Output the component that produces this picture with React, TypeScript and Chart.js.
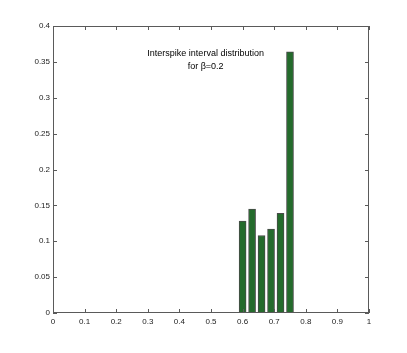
import React, { useEffect, useRef } from "react";
import { Chart, registerables } from "chart.js";

Chart.register(...registerables);

const binCenters = [0.6, 0.63, 0.66, 0.69, 0.72, 0.75];
const probabilities = [0.128, 0.145, 0.108, 0.117, 0.139, 0.364];
const titleLines = ["Interspike interval distribution", "for \u03b2=0.2"];
const xMin = 0, xMax = 1, xStep = 0.1;
const yMin = 0, yMax = 0.4, yStep = 0.05;

const FONT = "'Liberation Sans', Arial, Helvetica, sans-serif";
const AXIS_COLOR = "#5a5a5a";
const fmt = (v: any) => String(Number(Number(v).toFixed(4)));

const boxPlugin = {
  id: "matlabBox",
  afterDraw(chart: any) {
    const { ctx, chartArea: a, scales } = chart;
    ctx.save();
    ctx.strokeStyle = AXIS_COLOR;
    ctx.lineWidth = 1;
    ctx.strokeRect(a.left + 0.5, a.top + 0.5, a.right - a.left - 1, a.bottom - a.top - 1);
    const tl = 4;
    ctx.beginPath();
    scales.x.ticks.forEach((t: any) => {
      const px = Math.round(scales.x.getPixelForValue(t.value)) + 0.5;
      ctx.moveTo(px, a.bottom);
      ctx.lineTo(px, a.bottom - tl);
      ctx.moveTo(px, a.top);
      ctx.lineTo(px, a.top + tl);
    });
    scales.y.ticks.forEach((t: any) => {
      const py = Math.round(scales.y.getPixelForValue(t.value)) + 0.5;
      ctx.moveTo(a.left, py);
      ctx.lineTo(a.left + tl, py);
      ctx.moveTo(a.right, py);
      ctx.lineTo(a.right - tl, py);
    });
    ctx.stroke();
    // title inside axes
    ctx.fillStyle = "#000";
    ctx.font = `9px ${FONT}`;
    ctx.textAlign = "center";
    ctx.textBaseline = "middle";
    const cx = scales.x.getPixelForValue(0.483);
    const cy = scales.y.getPixelForValue(0.3615);
    titleLines.forEach((l, i) => ctx.fillText(l, cx, cy + i * 13));
    ctx.restore();
  },
};

export default function App() {
  const ref = useRef<HTMLCanvasElement>(null);
  useEffect(() => {
    const chart = new Chart(ref.current!, {
      type: "bar",
      data: {
        datasets: [
          {
            data: binCenters.map((x, i) => ({ x, y: probabilities[i] })),
            backgroundColor: "#246b2c",
            borderColor: "#4a4a4a",
            borderWidth: 1,
            barThickness: 7,
          },
        ],
      },
      options: {
        animation: false,
        responsive: false,
        devicePixelRatio: 1,
        layout: { padding: { left: 0, top: 26, right: 38, bottom: 0 } },
        plugins: { legend: { display: false }, tooltip: { enabled: false } },
        scales: {
          x: {
            type: "linear",
            min: xMin,
            max: xMax,
            offset: false,
            border: { display: false },
            grid: { display: false, drawTicks: false },
            ticks: { stepSize: xStep, padding: 4, color: "#222", font: { family: FONT, size: 8 }, maxRotation: 0, callback: fmt },
            afterFit: (s: any) => { s.height = 40; },
          },
          y: {
            min: yMin,
            max: yMax,
            border: { display: false },
            grid: { display: false, drawTicks: false },
            ticks: { stepSize: yStep, padding: 3, color: "#222", font: { family: FONT, size: 8 }, callback: fmt },
            afterFit: (s: any) => { s.width = 53; },
          },
        },
      },
      plugins: [boxPlugin],
    } as any);
    return () => chart.destroy();
  }, []);
  return (
    <div style={{ position: "absolute", left: 0, top: 0, width: 407, height: 353, background: "#fff" }}>
      <canvas ref={ref} width={407} height={353} />
    </div>
  );
}
